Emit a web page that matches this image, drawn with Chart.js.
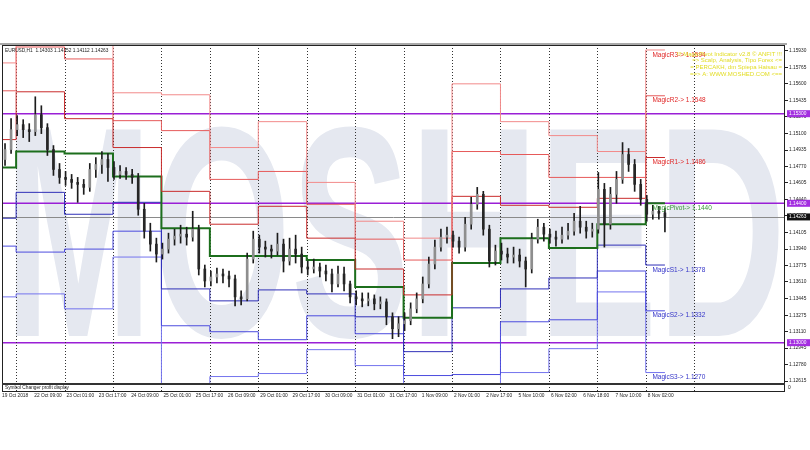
<!DOCTYPE html>
<html>
<head>
<meta charset="utf-8">
<script src="https://cdn.jsdelivr.net/npm/chart.js@4.4.0/dist/chart.umd.min.js"></script>
<style>
  html, body { margin: 0; padding: 0; background: #fff; }
</style>
</head>
<body>
<canvas id="pivotChart" width="810" height="450"></canvas>
<script>
// EURUSD, 3-hour candles (x = hours from 19 Oct 17:00)
const opens = [
  1.1484, 1.1494, 1.1514, 1.1519, 1.1514, 1.1512, 1.1529, 1.1516, 1.1494, 1.1474,
  1.1466, 1.1464, 1.1461, 1.1459, 1.1456, 1.1474, 1.1479, 1.1484, 1.1476, 1.1469,
  1.1472, 1.1469, 1.1466, 1.1434, 1.1412, 1.1399, 1.1389, 1.1394, 1.1404, 1.1407,
  1.1409, 1.1406, 1.1414, 1.1374, 1.1362, 1.1366, 1.1369, 1.1367, 1.1364, 1.1346,
  1.1344, 1.1384, 1.1404, 1.1396, 1.1394, 1.1392, 1.1399, 1.1382, 1.1394, 1.1389,
  1.1376, 1.1374, 1.1376, 1.1372, 1.1369, 1.1359, 1.1369, 1.1359, 1.1346, 1.1344,
  1.1342, 1.1344, 1.1339, 1.1341, 1.1326, 1.1314, 1.1319, 1.1322, 1.1334, 1.1344,
  1.1359, 1.1379, 1.1396, 1.1406, 1.1408, 1.1402, 1.1396, 1.1419, 1.1439, 1.1449,
  1.1414, 1.1382, 1.1392, 1.1389, 1.1386, 1.1388, 1.1382, 1.1374, 1.1404, 1.1416,
  1.1409, 1.1406, 1.1404, 1.1408, 1.1412, 1.1422, 1.1416, 1.1412, 1.1414, 1.1454,
  1.1419, 1.1449, 1.1464, 1.1489, 1.1479, 1.1459, 1.1444, 1.1429, 1.1432, 1.14303
];
const highs = [
  1.1500, 1.1525, 1.1528, 1.1524, 1.1520, 1.1547, 1.1538, 1.1520, 1.1498, 1.1480,
  1.1472, 1.1469, 1.1466, 1.1464, 1.1480, 1.1486, 1.1492, 1.1490, 1.1482, 1.1478,
  1.1476, 1.1474, 1.1470, 1.1440, 1.1420, 1.1405, 1.1400, 1.1410, 1.1414, 1.1418,
  1.1416, 1.1432, 1.1418, 1.1378, 1.1372, 1.1375, 1.1374, 1.1372, 1.1368, 1.1352,
  1.1390, 1.1412, 1.1408, 1.1402, 1.1398, 1.1410, 1.1404, 1.1405, 1.1408, 1.1396,
  1.1382, 1.1384, 1.1380, 1.1378, 1.1374, 1.1377, 1.1376, 1.1362, 1.1352, 1.1350,
  1.1350, 1.1348, 1.1346, 1.1344, 1.1330, 1.1326, 1.1330, 1.1340, 1.1350, 1.1366,
  1.1386, 1.1403, 1.1414, 1.1416, 1.1412, 1.1406, 1.1426, 1.1446, 1.1456, 1.1452,
  1.1418, 1.1398, 1.1400, 1.1395, 1.1396, 1.1394, 1.1386, 1.1410, 1.1424, 1.1420,
  1.1414, 1.1412, 1.1416, 1.1420, 1.1430, 1.1437, 1.1422, 1.1420, 1.1471, 1.1460,
  1.1456, 1.1472, 1.1501, 1.1495, 1.1484, 1.1464, 1.1448, 1.1438, 1.1437, 1.14352
];
const lows = [
  1.1478, 1.1490, 1.1508, 1.1506, 1.1502, 1.1508, 1.1510, 1.1488, 1.1468, 1.1460,
  1.1458, 1.1455, 1.1441, 1.1449, 1.1452, 1.1466, 1.1470, 1.1462, 1.1464, 1.1465,
  1.1464, 1.1460, 1.1428, 1.1405, 1.1392, 1.1381, 1.1384, 1.1390, 1.1398, 1.1400,
  1.1398, 1.1402, 1.1368, 1.1356, 1.1357, 1.1360, 1.1360, 1.1356, 1.1337, 1.1338,
  1.1342, 1.1380, 1.1390, 1.1386, 1.1385, 1.1388, 1.1371, 1.1378, 1.1380, 1.1370,
  1.1368, 1.1370, 1.1366, 1.1362, 1.1351, 1.1356, 1.1352, 1.1340, 1.1338, 1.1336,
  1.1337, 1.1333, 1.1334, 1.1318, 1.1304, 1.1306, 1.1312, 1.1318, 1.1330, 1.1340,
  1.1355, 1.1374, 1.1392, 1.1400, 1.1396, 1.1390, 1.1392, 1.1414, 1.1434, 1.1408,
  1.1376, 1.1378, 1.1383, 1.1380, 1.1380, 1.1376, 1.1356, 1.1370, 1.1400, 1.1402,
  1.1400, 1.1397, 1.1400, 1.1404, 1.1408, 1.1410, 1.1405, 1.1406, 1.1410, 1.1396,
  1.1414, 1.1440, 1.1460, 1.1472, 1.1452, 1.1438, 1.1422, 1.1424, 1.1424, 1.14112
];
const closes = [
  1.1494, 1.1514, 1.1519, 1.1514, 1.1512, 1.1529, 1.1516, 1.1494, 1.1474, 1.1466,
  1.1464, 1.1461, 1.1459, 1.1456, 1.1474, 1.1479, 1.1484, 1.1476, 1.1469, 1.1472,
  1.1469, 1.1466, 1.1434, 1.1412, 1.1399, 1.1389, 1.1394, 1.1404, 1.1407, 1.1409,
  1.1406, 1.1414, 1.1374, 1.1362, 1.1366, 1.1369, 1.1367, 1.1364, 1.1346, 1.1344,
  1.1384, 1.1404, 1.1396, 1.1394, 1.1392, 1.1399, 1.1382, 1.1394, 1.1389, 1.1376,
  1.1374, 1.1376, 1.1372, 1.1369, 1.1359, 1.1369, 1.1359, 1.1346, 1.1344, 1.1342,
  1.1344, 1.1339, 1.1341, 1.1326, 1.1314, 1.1319, 1.1322, 1.1334, 1.1344, 1.1359,
  1.1379, 1.1396, 1.1406, 1.1408, 1.1402, 1.1396, 1.1419, 1.1439, 1.1449, 1.1414,
  1.1382, 1.1392, 1.1389, 1.1386, 1.1388, 1.1382, 1.1374, 1.1404, 1.1416, 1.1409,
  1.1406, 1.1404, 1.1408, 1.1412, 1.1422, 1.1416, 1.1412, 1.1414, 1.1454, 1.1419,
  1.1449, 1.1464, 1.1489, 1.1479, 1.1459, 1.1444, 1.1429, 1.1432, 1.1430, 1.14263
];

// daily Magic Pivot levels, 19 Oct .. 8 Nov
const days = ['19 Oct', '22 Oct', '23 Oct', '24 Oct', '25 Oct', '26 Oct', '29 Oct', '30 Oct',
              '31 Oct', '1 Nov', '2 Nov', '5 Nov', '6 Nov', '7 Nov', '8 Nov'];
const r3 = [1.1581, 1.1654, 1.1620, 1.1551, 1.1549, 1.1496, 1.1522, 1.1461, 1.1422, 1.1405, 1.1560, 1.1522, 1.1508, 1.1492, 1.1594];
const r2 = [1.1553, 1.1597, 1.1585, 1.1523, 1.1513, 1.1464, 1.1472, 1.1439, 1.1404, 1.1383, 1.1492, 1.1489, 1.1466, 1.1466, 1.1548];
const r1 = [1.1504, 1.1552, 1.1525, 1.1496, 1.1452, 1.1419, 1.1437, 1.1405, 1.1374, 1.1348, 1.1447, 1.1438, 1.1436, 1.1445, 1.1486];
const pivot = [1.1476, 1.1492, 1.1490, 1.1467, 1.1415, 1.1387, 1.1387, 1.1383, 1.1356, 1.1325, 1.1380, 1.1405, 1.1395, 1.1419, 1.1440];
const s1 = [1.1425, 1.1451, 1.1429, 1.1441, 1.1354, 1.1342, 1.1353, 1.1349, 1.1326, 1.1291, 1.1335, 1.1354, 1.1365, 1.1398, 1.1378];
const s2 = [1.1397, 1.1391, 1.1394, 1.1412, 1.1317, 1.1311, 1.1303, 1.1327, 1.1309, 1.1267, 1.1268, 1.1321, 1.1323, 1.1372, 1.1332];
const s3 = [1.1346, 1.1349, 1.1334, 1.1386, 1.1256, 1.1266, 1.1269, 1.1293, 1.1277, 1.1234, 1.1223, 1.1270, 1.1294, 1.1351, 1.1270];

const timeLabels = ['19 Oct 2018', '22 Oct 09:00', '23 Oct 01:00', '23 Oct 17:00', '24 Oct 09:00', '25 Oct 01:00',
  '25 Oct 17:00', '26 Oct 09:00', '29 Oct 01:00', '29 Oct 17:00', '30 Oct 09:00', '31 Oct 01:00', '31 Oct 17:00',
  '1 Nov 09:00', '2 Nov 01:00', '2 Nov 17:00', '5 Nov 10:00', '6 Nov 02:00', '6 Nov 18:00', '7 Nov 10:00', '8 Nov 02:00'];
const priceTicks = [1.15930, 1.15765, 1.15600, 1.15435, 1.15270, 1.15100, 1.14935, 1.14770, 1.14605, 1.14440,
  1.14275, 1.14105, 1.13940, 1.13775, 1.13610, 1.13445, 1.13275, 1.13110, 1.12945, 1.12780, 1.12615];
const levelLines = [1.15300, 1.14400, 1.13000];

const FONT = '"Liberation Sans", Arial, sans-serif';
const last = closes.length - 1;
const candleX = closes.map((_, i) => 3 * i + 1.5);
const dayStart = d => (d === 0 ? 0 : 7 + 24 * (d - 1));
const lineEnd = 328.5;

function levelPoints(arr) {
  const pts = arr.map((v, d) => ({ x: dayStart(d), y: v }));
  pts.push({ x: lineEnd, y: arr[arr.length - 1] });
  return pts;
}

function levelSet(arr, color, width) {
  return {
    type: 'line', data: levelPoints(arr), borderColor: color, borderWidth: width,
    pointRadius: 0, stepped: true, fill: false, order: 2
  };
}

const magicLabels = [
  ['MagicR3', r3, '#e02828'], ['MagicR2', r2, '#e02828'], ['MagicR1', r1, '#e02828'],
  ['MagicPivot', pivot, '#3a9a3a'],
  ['MagicS1', s1, '#3434c8'], ['MagicS2', s2, '#3434c8'], ['MagicS3', s3, '#3434c8']
];

const decor = {
  id: 'decor',
  beforeDatasetsDraw(chart) {
    const { ctx, chartArea: a, scales: { x, y } } = chart;
    ctx.save();
    ctx.beginPath();
    ctx.rect(a.left, a.top, a.right - a.left, a.bottom - a.top);
    ctx.clip();

    // watermark
    ctx.save();
    ctx.fillStyle = '#e5e8f0';
    ctx.font = 'bold 300px ' + FONT;
    const w = ctx.measureText('MOSHED').width;
    ctx.translate(a.left + 2, 336);
    ctx.scale(782 / w, 1);
    ctx.fillText('MOSHED', 0, 0);
    ctx.restore();

    // fixed levels
    ctx.strokeStyle = '#9a1fd6';
    ctx.lineWidth = 1.5;
    levelLines.forEach(v => {
      const py = y.getPixelForValue(v);
      ctx.beginPath(); ctx.moveTo(a.left, py); ctx.lineTo(a.right, py); ctx.stroke();
    });
    // current price
    ctx.strokeStyle = '#8a8a8a';
    ctx.lineWidth = 1;
    const cy = Math.round(y.getPixelForValue(closes[last])) + 0.5;
    ctx.beginPath(); ctx.moveTo(a.left, cy); ctx.lineTo(a.right, cy); ctx.stroke();
    ctx.restore();

    // day separators
    ctx.save();
    ctx.strokeStyle = '#333';
    ctx.lineWidth = 1;
    ctx.setLineDash([1, 2]);
    for (let d = 1; d <= days.length; d++) {
      const px = Math.round(x.getPixelForValue(dayStart(d))) + 0.5;
      ctx.beginPath(); ctx.moveTo(px, a.top); ctx.lineTo(px, a.bottom + 8); ctx.stroke();
    }
    ctx.restore();
  },
  afterDraw(chart) {
    const { ctx, chartArea: a, scales: { x, y } } = chart;
    ctx.save();

    // frame
    ctx.fillStyle = '#a9a9a9';
    ctx.fillRect(0, a.top - 2, a.right + 2, 2);
    ctx.strokeStyle = '#222';
    ctx.lineWidth = 1;
    ctx.strokeRect(a.left + 0.5, a.top + 0.5, a.right - a.left - 1, a.bottom - a.top + 7);
    ctx.fillStyle = '#333';
    ctx.fillRect(a.left, a.bottom - 1, a.right - a.left, 2);

    // sub window
    ctx.fillStyle = '#222';
    ctx.font = '4.8px ' + FONT;
    ctx.textBaseline = 'middle';
    ctx.fillText('Symbol Changer profit display', a.left + 3, a.bottom + 4);
    ctx.fillText('0', a.right + 3, a.bottom + 4);

    // title
    ctx.textBaseline = 'top';
    ctx.fillText('EURUSD,H1  ' + [opens[last], highs[last], lows[last], closes[last]].map(v => v.toFixed(5)).join(' '),
      a.left + 3, a.top + 3);

    // pivot labels
    ctx.font = '6.5px ' + FONT;
    const lx = x.getPixelForValue(322.3);
    magicLabels.forEach(([name, arr, color]) => {
      const v = arr[arr.length - 1];
      ctx.fillStyle = color;
      ctx.fillText(name + '-> ' + v.toFixed(4), lx, y.getPixelForValue(v) + 1.5);
    });

    // info block
    ctx.fillStyle = '#e2dc22';
    ctx.font = '6px ' + FONT;
    ctx.textAlign = 'right';
    ['!!! MagicPivot Indicator v2.8 \u00a9 ANFIT !!!', '=> Scalp, Analysis, Tipo Forex <=',
     '= PERCAKH, dm Spiepa Haisau =', '==> A: WWW.MOSHED.COM <=='].forEach((t, i) => {
      ctx.fillText(t, a.right - 3, a.top + 6 + i * 6.8);
    });
    ctx.textAlign = 'left';

    // axis price boxes
    ctx.font = '4.8px ' + FONT;
    ctx.textBaseline = 'middle';
    const box = (v, bg) => {
      const py = y.getPixelForValue(v);
      ctx.fillStyle = bg;
      ctx.fillRect(a.right + 2, py - 3.5, 24, 7);
      ctx.fillStyle = '#fff';
      ctx.fillText(v.toFixed(5), a.right + 4, py);
    };
    levelLines.forEach(v => box(v, '#a32ee0'));
    box(closes[last], '#111');
    ctx.restore();
  }
};

new Chart(document.getElementById('pivotChart'), {
  type: 'bar',
  data: {
    datasets: [
      {
        type: 'bar', label: 'wick',
        data: highs.map((h, i) => ({ x: candleX[i], y: [lows[i], h] })),
        backgroundColor: '#1c1c1c', barThickness: 1, grouped: false, order: 1
      },
      {
        type: 'bar', label: 'body',
        data: opens.map((o, i) => ({ x: candleX[i], y: [o, closes[i]] })),
        backgroundColor: closes.map((c, i) => (c >= opens[i] ? '#8e8e8e' : '#262626')),
        barThickness: 2, minBarLength: 1, grouped: false, order: 0
      },
      levelSet(r3, '#f28a8a', 1),
      levelSet(r2, '#e65a5a', 1),
      levelSet(r1, '#c92c2c', 1),
      levelSet(pivot, '#1c6e1c', 2),
      levelSet(s1, '#3030b8', 1),
      levelSet(s2, '#4c4cde', 1),
      levelSet(s3, '#7474ee', 1)
    ]
  },
  options: {
    responsive: false,
    animation: false,
    devicePixelRatio: 1,
    layout: { padding: { left: 2, top: 45, right: 0, bottom: 0 } },
    plugins: { legend: { display: false }, tooltip: { enabled: false } },
    scales: {
      x: {
        type: 'linear', min: 0, max: 388, offset: false,
        afterBuildTicks: s => { s.ticks = timeLabels.map((_, i) => ({ value: i * 16 })); },
        afterFit: s => { s.height = 66; s.paddingLeft = 0; s.paddingRight = 0; },
        ticks: {
          callback: (v, i) => timeLabels[i], align: 'start', autoSkip: false, maxRotation: 0,
          padding: 9, color: '#222', font: { family: FONT, size: 4.8 }
        },
        grid: { display: false, drawTicks: false },
        border: { display: false }
      },
      y: {
        type: 'linear', position: 'right', min: 1.12585, max: 1.15990,
        afterBuildTicks: s => { s.ticks = priceTicks.map(v => ({ value: v })); },
        afterFit: s => { s.width = 25; s.paddingTop = 0; s.paddingBottom = 0; },
        ticks: {
          callback: v => v.toFixed(5), autoSkip: false, padding: 1, color: '#222',
          font: { family: FONT, size: 4.8 }
        },
        grid: { drawOnChartArea: false, drawTicks: true, tickLength: 3, color: '#222' },
        border: { display: false }
      }
    }
  },
  plugins: [decor]
});
</script>
</body>
</html>
